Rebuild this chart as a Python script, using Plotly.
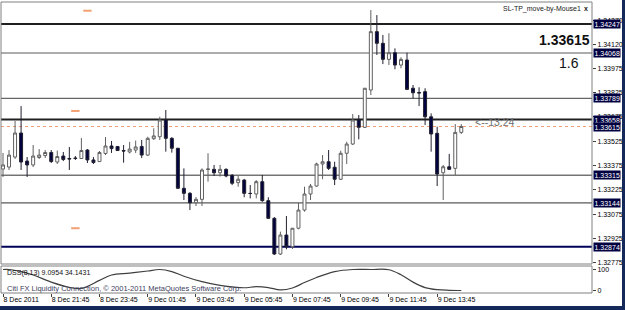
import plotly.graph_objects as go

# ---- data ----
opens = [1.33353, 1.33365, 1.33427, 1.33575, 1.33402, 1.33378, 1.33424, 1.33436, 1.33455, 1.33396,
         1.33433, 1.33418, 1.33421, 1.33418, 1.33470, 1.33409, 1.33399, 1.33449, 1.33495, 1.33492,
         1.33467, 1.33458, 1.33470, 1.33492, 1.33439, 1.33540, 1.33552, 1.33655, 1.33542, 1.33481,
         1.33234, 1.33203, 1.33145, 1.33166, 1.33350, 1.33351, 1.33330, 1.33351, 1.33314, 1.33269,
         1.33285, 1.33203, 1.33199, 1.33275, 1.33158, 1.33049, 1.32829, 1.32946, 1.32874, 1.32988,
         1.33100, 1.33199, 1.33248, 1.33384, 1.33398, 1.33364, 1.33290, 1.33450, 1.33507, 1.33655,
         1.33610, 1.33840, 1.34200, 1.34128, 1.34029, 1.34070, 1.33994, 1.34025, 1.33851, 1.33825,
         1.33830, 1.33675, 1.33573, 1.33330, 1.33367, 1.33357, 1.33579]
highs = [1.33452, 1.33470, 1.33649, 1.33741, 1.33427, 1.33501, 1.33476, 1.33470, 1.33470, 1.33467,
         1.33458, 1.33489, 1.33433, 1.33544, 1.33476, 1.33427, 1.33464, 1.33550, 1.33526, 1.33495,
         1.33501, 1.33520, 1.33528, 1.33532, 1.33552, 1.33604, 1.33675, 1.33717, 1.33550, 1.33483,
         1.33357, 1.33211, 1.33180, 1.33357, 1.33450, 1.33378, 1.33378, 1.33357, 1.33322, 1.33310,
         1.33292, 1.33254, 1.33285, 1.33316, 1.33179, 1.33057, 1.32967, 1.33063, 1.32989, 1.33145,
         1.33244, 1.33261, 1.33392, 1.33439, 1.33470, 1.33398, 1.33466, 1.33521, 1.33692, 1.33686,
         1.33852, 1.34333, 1.34302, 1.34179, 1.34190, 1.34097, 1.34042, 1.34070, 1.33871, 1.33857,
         1.33851, 1.33696, 1.33614, 1.33378, 1.33446, 1.33630, 1.33630]
lows = [1.33304, 1.33347, 1.33415, 1.33347, 1.33304, 1.33365, 1.33415, 1.33421, 1.33390, 1.33384,
        1.33402, 1.33347, 1.33409, 1.33415, 1.33390, 1.33384, 1.33396, 1.33439, 1.33452, 1.33464,
        1.33392, 1.33449, 1.33452, 1.33421, 1.33433, 1.33532, 1.33532, 1.33460, 1.33454, 1.33232,
        1.33162, 1.33100, 1.33125, 1.33125, 1.33275, 1.33310, 1.33306, 1.33302, 1.33254, 1.33244,
        1.33179, 1.33172, 1.33172, 1.33151, 1.33045, 1.32823, 1.32823, 1.32858, 1.32860, 1.32981,
        1.33090, 1.33162, 1.33244, 1.33290, 1.33347, 1.33254, 1.33285, 1.33384, 1.33501, 1.33536,
        1.33606, 1.33809, 1.34056, 1.34000, 1.33994, 1.33968, 1.33974, 1.33840, 1.33789, 1.33741,
        1.33624, 1.33460, 1.33248, 1.33162, 1.33347, 1.33316, 1.33569]
closes = [1.33378, 1.33439, 1.33575, 1.33396, 1.33378, 1.33433, 1.33439, 1.33455, 1.33399, 1.33430,
          1.33412, 1.33415, 1.33418, 1.33467, 1.33409, 1.33393, 1.33455, 1.33495, 1.33479, 1.33467,
          1.33464, 1.33476, 1.33489, 1.33439, 1.33542, 1.33557, 1.33655, 1.33542, 1.33481, 1.33234,
          1.33203, 1.33145, 1.33166, 1.33347, 1.33353, 1.33330, 1.33351, 1.33310, 1.33265, 1.33290,
          1.33203, 1.33202, 1.33275, 1.33158, 1.33049, 1.32829, 1.32946, 1.32874, 1.32988, 1.33100,
          1.33199, 1.33248, 1.33384, 1.33398, 1.33357, 1.33290, 1.33450, 1.33507, 1.33655, 1.33610,
          1.33851, 1.34200, 1.34128, 1.34029, 1.34070, 1.33994, 1.34029, 1.33844, 1.33823, 1.33822,
          1.33675, 1.33569, 1.33322, 1.33367, 1.33351, 1.33579, 1.33615]

time_tick_idx = [0, 8, 16, 24, 32, 40, 48, 56, 64, 72]
time_tick_labels = ['8 Dec 2011', '8 Dec 21:45', '8 Dec 23:45', '9 Dec 01:45', '9 Dec 03:45',
                    '9 Dec 05:45', '9 Dec 07:45', '9 Dec 09:45', '9 Dec 11:45', '9 Dec 13:45']

price_ticks = [1.34270, 1.34120, 1.33975, 1.33825, 1.33675, 1.33525, 1.33375,
               1.33225, 1.33075, 1.32925, 1.32775]

levels = [1.34247, 1.34068, 1.33789, 1.33658, 1.33315, 1.33144, 1.32874]
level_colors = ['#202020', '#909090', '#404040', '#202020', '#303030', '#303030', '#00005a']
level_widths = [2, 1.5, 1, 2, 1, 1, 2]
bid = 1.33615

dss_idx = [0, 1, 3, 5, 8, 11, 13, 16, 18, 21, 24, 26, 28, 30, 33, 36, 38, 40, 42, 44,
           46, 48, 50, 52, 55, 58, 61, 64, 66, 68, 70, 72, 74, 76]
dss_val = [100, 100, 90, 74, 40, 15, 10, 48, 74, 83, 93, 100, 90, 68, 42, 24, 17, 13, 18, 14,
           3, 12, 38, 62, 90, 100, 100, 99, 75, 40, 14, 4, 1, 0]

tag_idx = [14, 12, 12]
tag_prices = [1.34329, 1.33711, 1.32988]

# ---- layout geometry ----
W, H = 625, 310
ML, MR, MT, MB = 1, 33, 2, 17
PW = W - ML - MR
PH = H - MT - MB


def py(pix):  # pixel row -> paper y
    return (H - MB - pix) / PH


def px(pix):  # pixel column -> paper x
    return (pix - ML) / PW


main_bottom = py(264)
ind_top = py(266)

FONT = 'Liberation Sans'
idx = list(range(len(opens)))

fig = go.Figure()
fig.add_trace(go.Candlestick(
    x=idx, open=opens, high=highs, low=lows, close=closes,
    increasing=dict(line=dict(color='#606060', width=1), fillcolor='#ffffff'),
    decreasing=dict(line=dict(color='#202030', width=1), fillcolor='#000040'),
    whiskerwidth=0, xaxis='x', yaxis='y', hoverinfo='skip', showlegend=False))

fig.add_trace(go.Scatter(
    x=tag_idx, y=tag_prices, mode='markers', xaxis='x', yaxis='y',
    marker=dict(symbol='line-ew', size=6, line=dict(color='#f4a070', width=2)),
    hoverinfo='skip', showlegend=False))

fig.add_trace(go.Scatter(
    x=dss_idx, y=dss_val, mode='lines', xaxis='x', yaxis='y2',
    line=dict(color='#404040', width=1.2, shape='spline'), hoverinfo='skip', showlegend=False))

for lv, col, wd in zip(levels, level_colors, level_widths):
    fig.add_shape(type='line', xref='x domain', x0=0, x1=1, yref='y', y0=lv, y1=lv,
                  line=dict(color=col, width=wd), layer='below')
fig.add_shape(type='line', xref='x domain', x0=0, x1=1, yref='y', y0=bid, y1=bid,
              line=dict(color='#f0a078', width=1, dash='dot'), layer='below')

# panel borders
fig.add_shape(type='rect', xref='paper', yref='paper', x0=0, x1=1, y0=main_bottom, y1=1,
              line=dict(color='#808080', width=1))
fig.add_shape(type='rect', xref='paper', yref='paper', x0=0, x1=1, y0=0, y1=ind_top,
              line=dict(color='#808080', width=1))
# window frame bands
fig.add_shape(type='rect', xref='paper', yref='paper', x0=px(622), x1=px(626), y0=py(311), y1=py(-1),
              fillcolor='#14285a', line=dict(width=0))
fig.add_shape(type='rect', xref='paper', yref='paper', x0=px(-1), x1=px(626), y0=py(311), y1=py(306),
              fillcolor='#14285a', line=dict(width=0))

# price label boxes
for lv in levels + [bid]:
    fig.add_annotation(xref='paper', x=px(593), xanchor='left', yref='y', y=lv,
                       text=f'{lv:.5f}', showarrow=False, bgcolor='#000040', borderpad=0.5,
                       font=dict(color='white', size=7, family=FONT))

# texts
fig.add_annotation(xref='paper', yref='paper', x=px(501), y=py(8.5), xanchor='left', yanchor='middle',
                   text='SL-TP_move-by-Mouse1', showarrow=False, font=dict(size=7, color='#202020', family=FONT))
fig.add_annotation(xref='paper', yref='paper', x=px(586), y=py(8.5), xanchor='center', yanchor='middle',
                   text='<b>x</b>', showarrow=False, font=dict(size=7, color='#202020', family=FONT))
fig.add_annotation(xref='paper', yref='paper', x=px(592), y=py(40), xanchor='right', yanchor='middle',
                   text='<b>%.5f</b>' % bid, showarrow=False, font=dict(size=14, color='#101010', family=FONT))
fig.add_annotation(xref='paper', yref='paper', x=px(569), y=py(62.5), xanchor='center', yanchor='middle',
                   text='1.6', showarrow=False, font=dict(size=14, color='#101010', family=FONT))
fig.add_annotation(xref='paper', yref='paper', x=px(473), y=py(122.5), xanchor='left', yanchor='middle',
                   text='<--13:24', showarrow=False, font=dict(size=10.5, color='#707070', family=FONT))
fig.add_annotation(xref='paper', yref='paper', x=px(5), y=py(273), xanchor='left', yanchor='middle',
                   text='DSS(8,13) 9.0954 34.1431', showarrow=False, font=dict(size=7, color='#101010', family=FONT))
fig.add_annotation(xref='paper', yref='paper', x=px(5), y=py(288.5), xanchor='left', yanchor='middle',
                   text='Citi FX Liquidity Connection, © 2001-2011 MetaQuotes Software Corp.',
                   showarrow=False, font=dict(size=7.5, color='#404060', family=FONT))

x_lo = (ML - 3) / 6.03
x_hi = (W - MR - 3) / 6.03
p_top = 1.34395 - 2 * 0.00006165
p_bot = 1.34395 - 264 * 0.00006165

fig.update_layout(
    width=W, height=H, margin=dict(l=ML, r=MR, t=MT, b=MB),
    paper_bgcolor='white', plot_bgcolor='white', showlegend=False,
    font=dict(family=FONT, size=7, color='black'),
    xaxis=dict(domain=[0, 1], anchor='y2', range=[x_lo, x_hi], rangeslider=dict(visible=False),
               tickvals=time_tick_idx, ticktext=time_tick_labels, ticks='outside', ticklen=3,
               tickcolor='#404040', ticklabelposition='outside right', showgrid=False, zeroline=False,
               showline=False, tickfont=dict(size=7, family=FONT, color='black'), fixedrange=True),
    yaxis=dict(domain=[main_bottom, 1], range=[p_bot, p_top], side='right', anchor='x',
               tickvals=price_ticks, ticktext=[f'{v:.5f}' for v in price_ticks],
               ticks='outside', ticklen=3, tickcolor='#404040', showgrid=False, zeroline=False,
               tickfont=dict(size=7, family=FONT, color='black')),
    yaxis2=dict(domain=[0, ind_top], range=[-11.9, 116.7], side='right', anchor='x',
                tickvals=[0, 100], ticktext=['0', '100'], ticks='outside', ticklen=3,
                tickcolor='#404040', showgrid=False, zeroline=False,
                tickfont=dict(size=7, family=FONT, color='black')),
)

fig.write_html('out.html')
